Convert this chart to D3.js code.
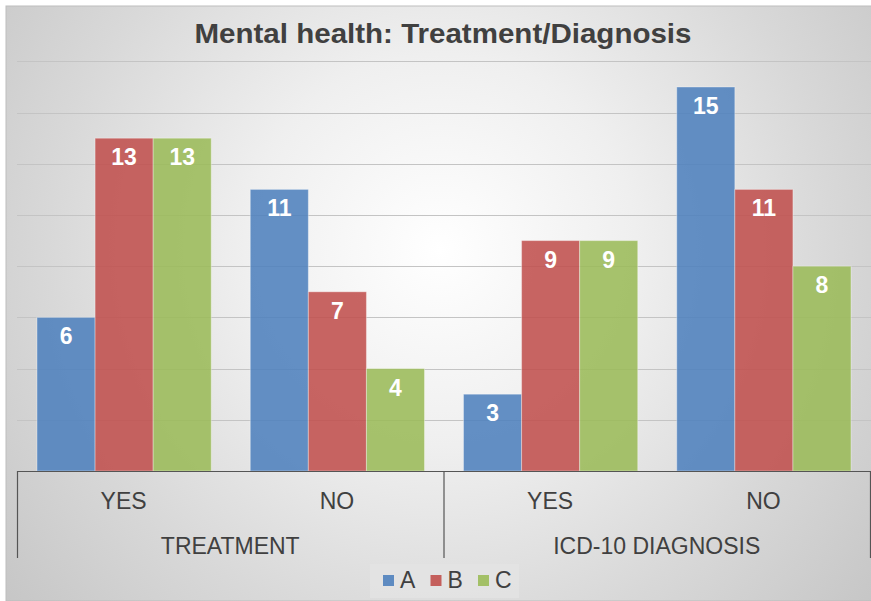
<!DOCTYPE html>
<meta charset="utf-8">
<style>
body { margin: 0; background: #fff; }
svg { display: block; font-family: "Liberation Sans", Arial, sans-serif; }
.grid line { stroke: #c4c4c4; stroke-width: 1; }
.bar { stroke: rgba(255,255,255,0.35); stroke-width: 1; }
.lbl { fill: #fff; font-weight: bold; font-size: 23px; text-anchor: middle; }
.cat { fill: #404040; font-size: 23px; text-anchor: middle; }
.axis-line { stroke: #555; stroke-width: 1.2; fill: none; }
</style>
<svg width="871" height="601"></svg>
<script src="https://cdn.jsdelivr.net/npm/d3@7"></script>
<script>

var groups = ["TREATMENT", "ICD-10 DIAGNOSIS"];
var categories = ["YES", "NO", "YES", "NO"];
var catGroup = [0, 0, 1, 1];
var series = ["A", "B", "C"];
var colors = ["#4f81bd", "#c0504d", "#9bbb59"];
var valuesA = [6, 11, 3, 15];
var valuesB = [13, 7, 9, 11];
var valuesC = [13, 4, 9, 8];
var yTicks = [2, 4, 6, 8, 10, 12, 14, 16];

var svg = d3.select("svg");

// background
var defs = svg.append("defs");
var rg = defs.append("radialGradient").attr("id", "bg")
    .attr("gradientUnits", "userSpaceOnUse")
    .attr("cx", 440).attr("cy", 250).attr("r", 560);
rg.append("stop").attr("offset", "0").attr("stop-color", "#ffffff");
rg.append("stop").attr("offset", "0.35").attr("stop-color", "#efefef");
rg.append("stop").attr("offset", "0.7").attr("stop-color", "#d8d8d8");
rg.append("stop").attr("offset", "1").attr("stop-color", "#c6c6c6");

svg.append("rect").attr("x", 6).attr("y", 6).attr("width", 866).attr("height", 595)
    .attr("fill", "url(#bg)").attr("stroke", "#bdbdbd").attr("stroke-width", 1);

svg.append("text").attr("x", 443).attr("y", 43)
    .attr("text-anchor", "middle").attr("font-size", 27).attr("font-weight", "bold")
    .attr("textLength", 497).attr("lengthAdjust", "spacingAndGlyphs")
    .attr("fill", "#404040").text("Mental health: Treatment/Diagnosis");

var plotL = 17, plotR = 870, plotT = 60, plotB = 471;

var y = d3.scaleLinear().domain([0, 16]).range([plotB, plotT + 1.4]);

var idx = d3.range(categories.length);
var x0 = d3.scaleBand().domain(idx).range([plotL, plotR]);
var x1 = d3.scaleBand().domain(series).range([20, x0.bandwidth() - 19]);

svg.append("g").attr("class", "grid")
  .selectAll("line").data(yTicks).enter().append("line")
    .attr("x1", plotL).attr("x2", 871)
    .attr("y1", function(d) { return Math.round(y(d)) + 0.5; })
    .attr("y2", function(d) { return Math.round(y(d)) + 0.5; });

var table = series.map(function(s, i) {
  var v = [valuesA, valuesB, valuesC][i];
  return idx.map(function(c) { return { s: s, c: c, v: v[c], color: colors[i] }; });
});

var bars = svg.append("g").selectAll("g").data(table).enter().append("g");
bars.selectAll("rect").data(function(d) { return d; }).enter().append("rect")
    .attr("class", "bar")
    .attr("x", function(d) { return x0(d.c) + x1(d.s); })
    .attr("y", function(d) { return y(d.v); })
    .attr("width", x1.bandwidth())
    .attr("height", function(d) { return plotB - y(d.v); })
    .attr("fill", function(d) { return d.color; })
    .attr("fill-opacity", 0.88);

bars.selectAll("text").data(function(d) { return d; }).enter().append("text")
    .attr("class", "lbl")
    .attr("x", function(d) { return x0(d.c) + x1(d.s) + x1.bandwidth() / 2; })
    .attr("y", function(d) { return y(d.v) + 27; })
    .text(function(d) { return d.v; });

// multi-level category axis
var axisBottom = 558;
svg.append("line").attr("class", "axis-line")
    .attr("x1", plotL).attr("x2", plotR).attr("y1", plotB + 0.5).attr("y2", plotB + 0.5);
var sepX = [plotL, x0(2), plotR];
svg.selectAll(".sep").data(sepX).enter().append("line").attr("class", "axis-line")
    .attr("x1", function(d) { return d + 0.5; }).attr("x2", function(d) { return d + 0.5; })
    .attr("y1", plotB).attr("y2", axisBottom);

svg.selectAll(".cat1").data(idx).enter().append("text").attr("class", "cat")
    .attr("x", function(d) { return x0(d) + x0.bandwidth() / 2; })
    .attr("y", 509)
    .text(function(d) { return categories[d]; });

svg.selectAll(".cat2").data(groups).enter().append("text").attr("class", "cat")
    .attr("x", function(d, i) {
      var cs = idx.filter(function(c) { return catGroup[c] === i; });
      return (x0(cs[0]) + x0(cs[cs.length - 1]) + x0.bandwidth()) / 2;
    })
    .attr("y", 554)
    .text(function(d) { return d; });

// legend
var lg = svg.append("g");
lg.append("rect").attr("x", 370).attr("y", 564).attr("width", 149).attr("height", 34)
    .attr("fill", "#e3e3e3").attr("fill-opacity", 0.8);
var li = lg.selectAll(".li").data(series).enter().append("g")
    .attr("transform", function(d, i) { return "translate(" + (383 + i * 47.5) + ",0)"; });
li.append("rect").attr("y", 575).attr("width", 11).attr("height", 11)
    .attr("fill", function(d, i) { return colors[i]; }).attr("fill-opacity", 0.9);
li.append("text").attr("x", 17).attr("y", 588).attr("font-size", 23)
    .attr("fill", "#404040").text(function(d) { return d; });

</script>
